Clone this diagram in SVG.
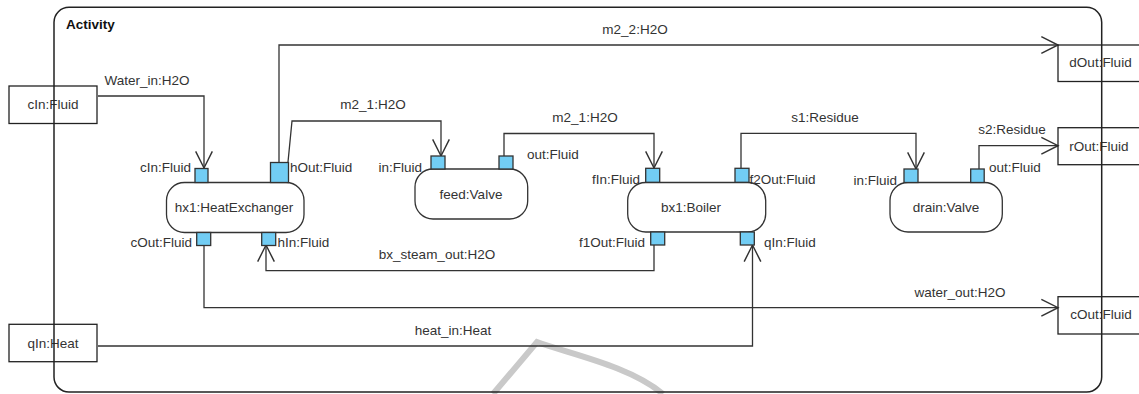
<svg xmlns="http://www.w3.org/2000/svg" width="1139" height="394" viewBox="0 0 1139 394">
<style>
text{font-family:"Liberation Sans",Arial,sans-serif;font-size:13.5px;fill:#333}
.b{font-weight:bold;fill:#111}
.m{text-anchor:middle}
.e{text-anchor:end}
.box{fill:none;stroke:#222;stroke-width:1.3}
.node{fill:#fff;stroke:#333;stroke-width:1.3}
.port{fill:#72cdf4;stroke:#333;stroke-width:1.3}
.c{fill:none;stroke:#333;stroke-width:1.3}
.ca{fill:none;stroke:#333;stroke-width:1.3;marker-end:url(#arr)}
.frame{fill:none;stroke:#222;stroke-width:1.5}
</style>
<defs>
<marker id="arr" markerUnits="userSpaceOnUse" markerWidth="20" markerHeight="20" viewBox="-16 -9 18 18" refX="0" refY="0" orient="auto" overflow="visible">
<path d="M-15,-7.5 L0,0 L-15,7.5" fill="none" stroke="#333" stroke-width="1.3"/>
</marker>
</defs>
<rect width="1139" height="394" fill="#fff"/>
<path d="M493,394 L537,342 C570,354 630,366 663,394" fill="none" stroke="#c9c9c9" stroke-width="6"/>

<g id="connectors">
<path class="ca" d="M98,96 H204 V168"/>
<text x="147" y="85" class="m">Water_in:H2O</text>
<path class="ca" d="M279,162 V45 H1058"/>
<text x="635" y="34" class="m">m2_2:H2O</text>
<path class="ca" d="M288,162 L292,121 H441 V156"/>
<text x="373" y="109" class="m">m2_1:H2O</text>
<path class="ca" d="M504,156 V133.5 H654 V168"/>
<text x="585" y="121.5" class="m">m2_1:H2O</text>
<path class="ca" d="M741,168 V133.3 H916 V169"/>
<text x="825" y="121.5" class="m">s1:Residue</text>
<path class="ca" d="M979,169 V145.7 H1058"/>
<text x="1012" y="134" class="m">s2:Residue</text>
<path class="ca" d="M654,245 V270.7 H266 V245"/>
<text x="437" y="259" class="m">bx_steam_out:H2O</text>
<path class="ca" d="M204,245 V307.7 H1058"/>
<text x="960" y="296.5" class="m">water_out:H2O</text>
<path class="ca" d="M98,346 H752.5 V245"/>
<text x="453" y="335" class="m">heat_in:Heat</text>
</g>

<g id="cIn">
<rect class="box" x="9" y="86" width="88" height="37.5"/>
<text x="53" y="109" class="m">cIn:Fluid</text>
</g>
<g id="qIn">
<rect class="box" x="9" y="324.3" width="88" height="37.4"/>
<text x="53" y="348" class="m">qIn:Heat</text>
</g>
<g id="dOut">
<rect class="box" x="1058" y="45" width="90" height="36.5"/>
<text x="1100.5" y="67" class="m">dOut:Fluid</text>
</g>
<g id="rOut">
<rect class="box" x="1058" y="127.7" width="90" height="37"/>
<text x="1099" y="150.5" class="m">rOut:Fluid</text>
</g>
<g id="cOut">
<rect class="box" x="1058" y="296.7" width="90" height="37.3"/>
<text x="1101" y="319" class="m">cOut:Fluid</text>
</g>

<g id="hx1">
<rect class="node" x="166.5" y="182.5" width="137.5" height="50" rx="18"/>
<text x="234" y="211.5" class="m">hx1:HeatExchanger</text>
<rect class="port" x="195" y="168.5" width="13" height="14"/>
<text x="191" y="171.5" class="e">cIn:Fluid</text>
<rect class="port" x="270.5" y="162.5" width="18" height="20"/>
<text x="290" y="171.5">hOut:Fluid</text>
<rect class="port" x="196.7" y="232.5" width="14" height="13"/>
<text x="192" y="246.5" class="e">cOut:Fluid</text>
<rect class="port" x="261.7" y="232.5" width="14" height="13"/>
<text x="277.5" y="246.5">hIn:Fluid</text>
</g>

<g id="feed">
<rect class="node" x="415" y="169" width="112.7" height="50" rx="18"/>
<text x="471" y="199" class="m">feed:Valve</text>
<rect class="port" x="431" y="156" width="14" height="13"/>
<text x="422" y="171.5" class="e">in:Fluid</text>
<rect class="port" x="499" y="156" width="14" height="13"/>
<text x="527" y="159">out:Fluid</text>
</g>

<g id="bx1">
<rect class="node" x="627.7" y="182.5" width="138" height="49.5" rx="18"/>
<text x="691" y="211.5" class="m">bx1:Boiler</text>
<rect class="port" x="645.7" y="168.3" width="14" height="14"/>
<text x="640" y="184" class="e">fIn:Fluid</text>
<rect class="port" x="735" y="168.3" width="14" height="14"/>
<text x="749.5" y="184">f2Out:Fluid</text>
<rect class="port" x="650.7" y="232" width="14" height="13"/>
<text x="645" y="246.5" class="e">f1Out:Fluid</text>
<rect class="port" x="740.3" y="232" width="14" height="13"/>
<text x="764" y="246.5">qIn:Fluid</text>
</g>

<g id="drain">
<rect class="node" x="890" y="182.5" width="112.3" height="49.5" rx="18"/>
<text x="946" y="211.5" class="m">drain:Valve</text>
<rect class="port" x="904" y="169" width="14" height="13.5"/>
<text x="897" y="185" class="e">in:Fluid</text>
<rect class="port" x="970.7" y="169" width="13.5" height="13.5"/>
<text x="989" y="171.5">out:Fluid</text>
</g>

<g id="activity">
<rect class="frame" x="54" y="7.3" width="1047.7" height="384.7" rx="15"/>
<text x="66" y="29" class="b">Activity</text>
</g>
</svg>
